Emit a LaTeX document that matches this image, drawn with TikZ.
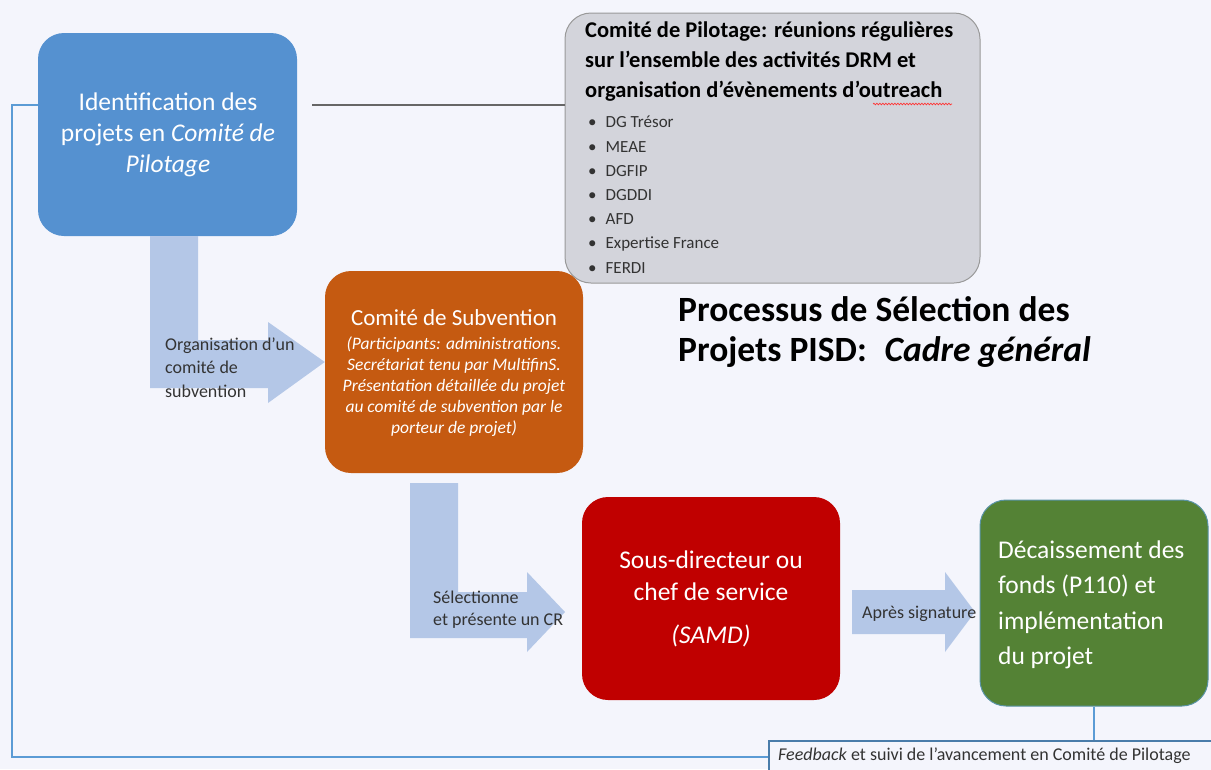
\documentclass[tikz,border=0pt]{standalone}
\usepackage{fontspec}
\setmainfont{Carlito}
\usetikzlibrary{decorations.pathmorphing}
\definecolor{bgc}{HTML}{F4F5FC}
\definecolor{bluebox}{HTML}{5591D0}
\definecolor{greybox}{HTML}{D3D4DB}
\definecolor{orangebox}{HTML}{C55A11}
\definecolor{redbox}{HTML}{C00000}
\definecolor{greenbox}{HTML}{548235}
\definecolor{arrowfill}{HTML}{B4C7E7}
\definecolor{linkblue}{HTML}{5B9BD5}
\definecolor{labelgrey}{HTML}{333333}
% multi-line text nodes are placed by the baseline of their last line
\tikzset{
  stepbox/.style={rounded corners=26pt, inner sep=0pt},
  boxtext/.style={inner sep=0pt, text=white},
  bigarrow/.style={fill=arrowfill, draw=none},
  arrowlabel/.style={anchor=base west, align=left, text=labelgrey, font=\fontsize{18}{23.5}\selectfont, inner sep=0pt},
  feedbackline/.style={draw=linkblue, line width=2pt},
}
\begin{document}
\begin{tikzpicture}[x=1pt,y=-1pt]
\useasboundingbox (0,0) rectangle (1211,769);
\fill[bgc] (0,0) rectangle (1211,769);

% identification box
\node[stepbox, fill=bluebox, minimum width=259pt, minimum height=203pt] (ident) at (167.5,134.5) {};
\node[boxtext, anchor=base, align=center, font=\fontsize{25.5}{31}\selectfont] (identtext) at (168,172)
  {Identification des\\projets en \textit{Comité de}\\\textit{Pilotage}};

% steering committee box
\node[stepbox, fill=greybox, draw=gray!80, line width=1pt, minimum width=415pt, minimum height=270pt] (copil) at (772.5,148) {};
\node[anchor=base west, align=left, inner sep=0pt, font=\bfseries\fontsize{22.5}{30}\selectfont] (copiltitle) at (585,97)
  {Comité de Pilotage: réunions régulières\\sur l’ensemble des activités DRM et\\organisation d’évènements d’outreach};
\draw[red!80, line width=0.7pt, decorate, decoration={snake, amplitude=0.8pt, segment length=3pt}]
  (873,104) -- (952,104);
\node[anchor=base west, align=left, inner sep=0pt, text=black!80, font=\fontsize{17}{24.2}\selectfont] (copillist) at (588,273)
  {\textbullet\hspace{9pt}DG Trésor\\\textbullet\hspace{9pt}MEAE\\\textbullet\hspace{9pt}DGFIP\\\textbullet\hspace{9pt}DGDDI\\\textbullet\hspace{9pt}AFD\\\textbullet\hspace{9pt}Expertise France\\\textbullet\hspace{9pt}FERDI};

\draw[gray!80!black, line width=1.5pt] (312,105) -- (copil.west |- 0,105);

% grant committee box
\node[stepbox, fill=orangebox, minimum width=258pt, minimum height=202pt] (subv) at (454,372) {};
\node[boxtext, anchor=base, font=\fontsize{23}{25}\selectfont] (subvtitle) at (454,325) {Comité de Subvention};
\node[boxtext, anchor=base, align=center, font=\itshape\fontsize{17.5}{20.8}\selectfont] (subvtext) at (454,433)
  {(Participants: administrations.\\Secrétariat tenu par MultifinS.\\Présentation détaillée du projet\\au comité de subvention par le\\porteur de projet)};

% deputy director box
\node[stepbox, fill=redbox, minimum width=258pt, minimum height=203pt] (samd) at (711,598.5) {};
\node[boxtext, anchor=base, align=center, font=\fontsize{25.5}{32}\selectfont] (samdtext) at (711,643)
  {Sous-directeur ou\\chef de service\\[11pt]\textit{(SAMD)}};

% disbursement box
\node[stepbox, fill=greenbox, draw=linkblue!70!greenbox, line width=1pt, minimum width=228pt, minimum height=206pt] (fonds) at (1094,603) {};
\node[boxtext, anchor=base west, align=left, font=\fontsize{25.5}{35.5}\selectfont] (fondstext) at (998,664.5)
  {Décaissement des\\fonds (P110) et\\implémentation\\du projet};

% broad arrows
\fill[bigarrow] (ident.south -| 150,0) -- (ident.south -| 198,0) -- (198,340) -- (268,340) -- (268,322) -- (subv.west |- 0,362)
  -- (268,403) -- (268,388) -- (150,388) -- cycle;
\node[arrowlabel] (lab1) at (165,397) {Organisation d’un\\comité de\\subvention};

\fill[bigarrow] (410,483) -- (458,483) -- (458,592) -- (527,592) -- (527,572) -- (565,612)
  -- (527,652) -- (527,638) -- (410,638) -- cycle;
\node[arrowlabel, font=\fontsize{18}{22}\selectfont] (lab2) at (433,625) {Sélectionne\\et présente un CR};

\fill[bigarrow] (852,590) -- (945,590) -- (945,572) -- (975,612) -- (945,652) -- (945,634) -- (852,634) -- cycle;
\node[arrowlabel] (lab3) at (862,618) {Après signature};

% feedback loop
\node[draw=linkblue!80!black, line width=1.5pt, fill=bgc, anchor=north west, minimum width=460pt, minimum height=32pt,
      inner sep=0pt] (feedback) at (768,740) {};
\node[anchor=base west, inner sep=0pt, text=labelgrey, font=\fontsize{18}{20}\selectfont] (feedbacktext) at (778,760)
  {\textit{Feedback} et suivi de l’avancement en Comité de Pilotage};
\draw[linkblue, line width=1.5pt] (fonds.south) -- (fonds.south |- feedback.north);
\draw[feedbackline] (feedback.west |- 0,757) -- (12,757) -- (12,105) -- (ident.west |- 0,105);

% title
\node[anchor=base west, align=left, inner sep=0pt, font=\bfseries\fontsize{35.5}{39.5}\selectfont] (title) at (678,361)
  {Processus de Sélection des\\Projets PISD:\hspace{0.5em}\textit{Cadre général}};
\end{tikzpicture}
\end{document}
